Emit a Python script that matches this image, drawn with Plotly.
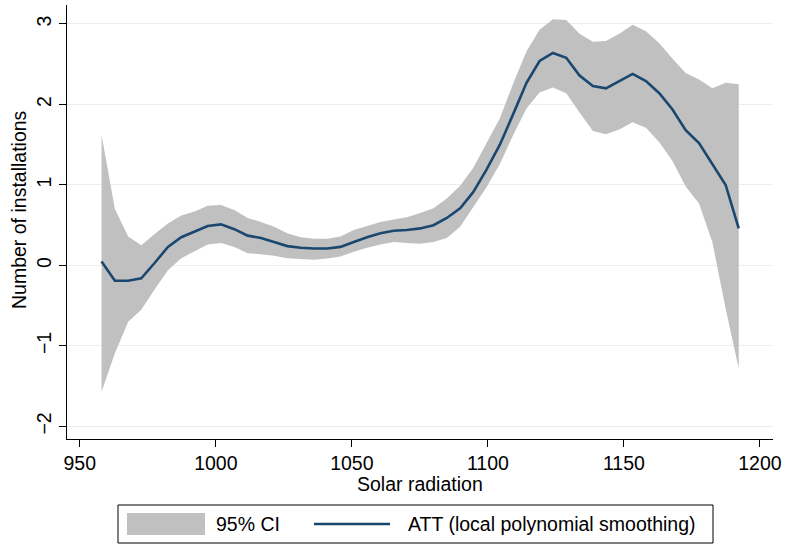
import plotly.graph_objects as go

# ---------------- data ----------------
solar_radiation = [958.0, 962.9, 967.8, 972.6, 977.5, 982.4, 987.3, 992.2, 997.0, 1001.9,
                   1006.8, 1011.7, 1016.6, 1021.4, 1026.3, 1031.2, 1036.1, 1041.0, 1045.8, 1050.7,
                   1055.6, 1060.5, 1065.4, 1070.2, 1075.1, 1080.0, 1084.9, 1089.8, 1094.6, 1099.5,
                   1104.4, 1109.3, 1114.2, 1119.0, 1123.9, 1128.8, 1133.7, 1138.6, 1143.4, 1148.3,
                   1153.2, 1158.1, 1163.0, 1167.8, 1172.7, 1177.6, 1182.5, 1187.4, 1192.2]

att = [0.05, -0.19, -0.19, -0.16, 0.03, 0.23, 0.35, 0.42, 0.49, 0.51,
       0.45, 0.37, 0.34, 0.29, 0.24, 0.22, 0.21, 0.21, 0.23, 0.29,
       0.35, 0.40, 0.43, 0.44, 0.46, 0.50, 0.59, 0.71, 0.91, 1.19,
       1.50, 1.88, 2.27, 2.54, 2.64, 2.58, 2.36, 2.23, 2.20, 2.29,
       2.38, 2.29, 2.14, 1.94, 1.68, 1.52, 1.26, 1.00, 0.46]

ci_upper = [1.62, 0.70, 0.36, 0.25, 0.39, 0.52, 0.62, 0.67, 0.74, 0.75,
            0.69, 0.59, 0.54, 0.48, 0.40, 0.35, 0.33, 0.33, 0.36, 0.44,
            0.49, 0.54, 0.57, 0.60, 0.65, 0.71, 0.83, 0.99, 1.21, 1.52,
            1.83, 2.26, 2.66, 2.93, 3.06, 3.05, 2.88, 2.78, 2.79, 2.88,
            2.99, 2.91, 2.76, 2.57, 2.39, 2.31, 2.20, 2.27, 2.25]

ci_lower = [-1.57, -1.09, -0.70, -0.55, -0.30, -0.06, 0.09, 0.18, 0.26, 0.28,
            0.23, 0.15, 0.14, 0.12, 0.09, 0.08, 0.07, 0.085, 0.11, 0.17,
            0.22, 0.26, 0.29, 0.28, 0.27, 0.29, 0.34, 0.48, 0.72, 0.97,
            1.26, 1.62, 1.95, 2.15, 2.21, 2.14, 1.90, 1.67, 1.63, 1.69,
            1.78, 1.71, 1.53, 1.30, 0.98, 0.77, 0.29, -0.54, -1.28]

x_ticks = [950, 1000, 1050, 1100, 1150, 1200]
y_ticks = [-2, -1, 0, 1, 2, 3]

x_title = "Solar radiation"
y_title = "Number of installations"
legend_labels = ["95% CI", "ATT (local polynomial smoothing)"]

# ---------------- styling ----------------
W, H = 785, 544
ML, MR, MT, MB = 67, 12, 5, 105
FONT = "Liberation Sans, Arial, Helvetica, sans-serif"
FS = 19.5
BAND = "#C0C0C0"
NAVY = "#1A476F"
GRID = "#E8EFF1"

PW = W - ML - MR
PH = H - MT - MB


def px_x(px):
    return (px - ML) / PW


def px_y(py):
    return (H - MB - py) / PH


fig = go.Figure()
fig.add_trace(go.Scatter(x=solar_radiation, y=ci_lower, mode="lines",
                         line=dict(width=0, color=BAND), showlegend=False,
                         hoverinfo="skip"))
fig.add_trace(go.Scatter(x=solar_radiation, y=ci_upper, mode="lines",
                         line=dict(width=0, color=BAND), fill="tonexty",
                         fillcolor=BAND, name=legend_labels[0], showlegend=False))
fig.add_trace(go.Scatter(x=solar_radiation, y=att, mode="lines",
                         line=dict(width=2.6, color=NAVY),
                         name=legend_labels[1], showlegend=False))

axis_common = dict(showline=True, linecolor="black", linewidth=1,
                   ticks="outside", ticklen=7, tickwidth=1, tickcolor="black",
                   zeroline=False, automargin=False,
                   tickfont=dict(family=FONT, size=FS, color="black"))

fig.update_xaxes(range=[945.3, 1204.8], tickvals=x_ticks, showgrid=False,
                 ticklabelstandoff=0, **axis_common)
fig.update_yaxes(range=[-2.157, 3.236], tickvals=y_ticks, showgrid=True,
                 gridcolor=GRID, gridwidth=1, tickangle=-90, **axis_common)

shapes = [
    # legend frame
    dict(type="rect", xref="paper", yref="paper",
         x0=px_x(118), x1=px_x(713), y0=px_y(543), y1=px_y(505),
         line=dict(color="black", width=1), fillcolor="white", layer="above"),
    # CI swatch
    dict(type="rect", xref="paper", yref="paper",
         x0=px_x(127), x1=px_x(205), y0=px_y(535), y1=px_y(513),
         line=dict(width=0), fillcolor=BAND, layer="above"),
    # line swatch
    dict(type="line", xref="paper", yref="paper",
         x0=px_x(314), x1=px_x(390), y0=px_y(524), y1=px_y(524),
         line=dict(color=NAVY, width=2.6), layer="above"),
]

annotations = [
    dict(text=x_title, xref="paper", yref="paper", x=0.5, y=px_y(484),
         xanchor="center", yanchor="middle", showarrow=False,
         font=dict(family=FONT, size=FS, color="black")),
    dict(text=y_title, xref="paper", yref="paper", x=px_x(19), y=px_y(210),
         xanchor="center", yanchor="middle", textangle=-90, showarrow=False,
         font=dict(family=FONT, size=FS, color="black")),
    dict(text=legend_labels[0], xref="paper", yref="paper", x=px_x(214), y=px_y(524),
         xanchor="left", yanchor="middle", showarrow=False,
         font=dict(family=FONT, size=FS, color="black")),
    dict(text=legend_labels[1], xref="paper", yref="paper", x=px_x(406), y=px_y(524),
         xanchor="left", yanchor="middle", showarrow=False,
         font=dict(family=FONT, size=FS, color="black")),
]

fig.update_layout(width=W, height=H,
                  margin=dict(l=ML, r=MR, t=MT, b=MB, pad=0, autoexpand=False),
                  paper_bgcolor="white", plot_bgcolor="white",
                  font=dict(family=FONT, size=FS, color="black"),
                  showlegend=False, shapes=shapes, annotations=annotations)

fig.write_html("out.html",
               config={"displayModeBar": False},
               post_script="document.body.style.margin='0';"
                           "document.body.style.overflow='hidden';")
